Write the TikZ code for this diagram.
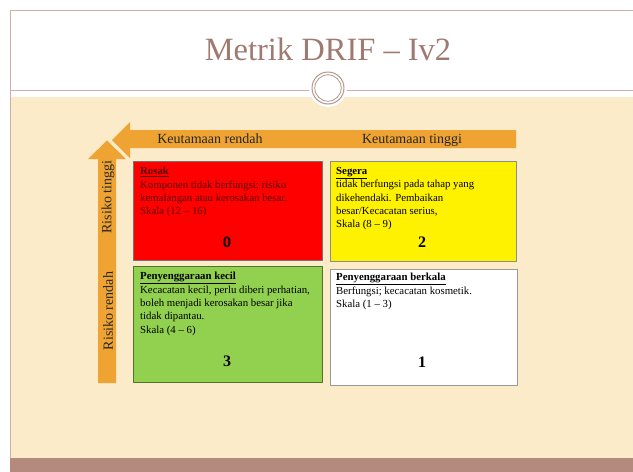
\documentclass[tikz,border=0pt]{standalone}
\usepackage{fontspec}
\setmainfont{Liberation Serif}
\newfontfamily\arialfont{Liberation Sans}
\definecolor{krim}{HTML}{FBEBC8}
\definecolor{coklat}{HTML}{B48A7E}
\definecolor{garis}{HTML}{CDB0A8}
\definecolor{tajuk}{HTML}{A07A70}
\definecolor{oren}{HTML}{EFA332}
\definecolor{hijau}{HTML}{92D050}
\tikzset{
  kotak/.style={draw=#1, line width=0.8pt, inner sep=0pt, anchor=north west},
  isi/.style={anchor=north west, inner sep=0pt, align=left,
    font=\fontsize{10.8}{13.4}\selectfont},
  nombor/.style={font=\fontsize{16}{16}\selectfont\bfseries},
  label/.style={font=\fontsize{14}{14}\selectfont, text=black!85}
}
\begin{document}
\begin{tikzpicture}[x=1pt,y=-1pt, line join=round, line cap=round]
\useasboundingbox (0,0) rectangle (633,472);
\def\kiri{10} \def\kanan{633}
% latar
\fill[krim] (\kiri+1,97) rectangle (\kanan,458);
\fill[coklat] (\kiri,458) rectangle (\kanan,472);
\draw[garis, line width=0.6pt] (\kiri,458)--(\kiri,10)--(\kanan,10);
\draw[garis, line width=0.6pt] (\kiri,90)--(\kanan,90);
\node[text=tajuk, font=\fontsize{32.5}{32.5}\selectfont] (tajuk) at (328,49) {Metrik DRIF -- Iv2};
\fill[white] (328,88) circle (19);
\draw[tajuk!80, line width=1pt] (328,88) circle (16);
\draw[tajuk!80, line width=0.8pt] (328,88) circle (13.2);
% anak panah
\fill[oren] (516,130)--(130,130)--(130,122)--(112,140)--(130,158)--(130,148)--(516,148)--cycle;
\fill[oren] (98,383)--(98,159)--(88,159)--(107,140.5)--(126,159)--(116,159)--(116,383)--cycle;
\node[label] (krendah) at (210,139) {Keutamaan rendah};
\node[label] (ktinggi) at (412,140) {Keutamaan tinggi};
\node[label, rotate=90] (rtinggi) at (108,197) {Risiko tinggi};
\node[label, rotate=90] (rrendah) at (108,311) {Risiko rendah};
% kotak
\node[kotak=black!55, fill=red, minimum width=189, minimum height=99] (rosak) at (133,161) {};
\node[kotak=black!45, fill=yellow, minimum width=186, minimum height=100] (segera) at (330,161) {};
\node[kotak=black!45!hijau, fill=hijau, minimum width=189, minimum height=116] (kecil) at (133,266) {};
\node[kotak=black!40, fill=white, minimum width=187, minimum height=116] (berkala) at (330,269) {};
\node[isi, text=red!35!black] (trosak) at ([xshift=7,yshift=-6]rosak.north west)
  {\underline{\textbf{Rosak}}\\Komponen tidak berfungsi; risiko\\kemalangan atau kerosakan besar.\\Skala (12 -- 16)};
\node[isi] (tsegera) at ([xshift=6,yshift=-6]segera.north west)
  {\underline{\textbf{Segera}}\\tidak berfungsi pada tahap yang\\dikehendaki. Pembaikan\\besar/Kecacatan serius,\\Skala (8 -- 9)};
\node[isi] (tkecil) at ([xshift=7,yshift=-6]kecil.north west)
  {\underline{\textbf{Penyenggaraan kecil}}\\Kecacatan kecil, perlu diberi perhatian,\\boleh menjadi kerosakan besar jika\\tidak dipantau.\\Skala (4 -- 6)};
\node[isi] (tberkala) at ([xshift=6,yshift=-4]berkala.north west)
  {\underline{\textbf{Penyenggaraan berkala}}\\Berfungsi; kecacatan kosmetik.\\Skala (1 -- 3)};
\node[font=\arialfont\fontsize{15}{15}\selectfont\bfseries] (n0) at (227,242) {0};
\node[nombor] (n2) at (422,242) {2};
\node[nombor] (n3) at (227,361) {3};
\node[nombor] (n1) at (422,362) {1};
\end{tikzpicture}
\end{document}
